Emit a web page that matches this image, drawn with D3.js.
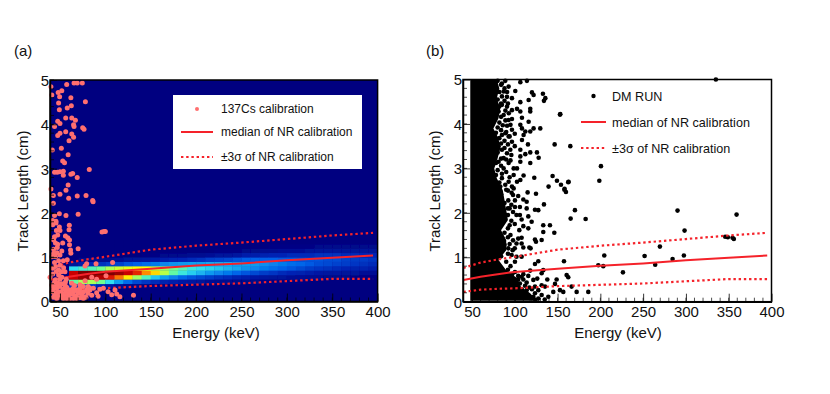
<!DOCTYPE html>
<html lang="en">
<head>
<meta charset="UTF-8">
<title>Track length vs energy</title>
<script src="https://d3js.org/d3.v7.min.js"></script>
<style>
    body { margin: 0; background: #fff; }
    svg { display: block; }
    text { font-family: "Liberation Sans", Arial, sans-serif; fill: #111; }
    .axis path { stroke: #000; stroke-width: 1.5px; }
    .axis line { stroke: #000; stroke-width: 0.8px; }
    .axis text { font-size: 15px; }
    .title { font-size: 15px; }
</style>
</head>
<body>
<svg id="chart" width="830" height="394"></svg>
<script>
// NR calibration curves: [energy keV, track length cm]
const medianLine = [[40, 0.49], [60, 0.56], [80, 0.62], [100, 0.67], [150, 0.74], [200, 0.81], [250, 0.86], [300, 0.93], [350, 0.99], [395, 1.04]];
const upperLine = [[40, 0.76], [60, 0.88], [80, 0.95], [100, 1.01], [150, 1.17], [200, 1.26], [250, 1.33], [300, 1.41], [350, 1.49], [395, 1.55]];
const lowerLine = [[40, 0.22], [60, 0.27], [80, 0.29], [100, 0.30], [150, 0.35], [200, 0.38], [250, 0.41], [300, 0.46], [350, 0.51], [395, 0.51]];

// NR calibration histogram: one row per energy bin, one value per length bin
const heatEnergies = [60, 70, 80, 90, 100, 110, 120, 130, 140, 150, 160, 170, 180, 190, 200, 210, 220, 230, 240, 250, 260, 270, 280, 290, 300, 310, 320, 330, 340, 350, 360, 370, 380, 390];
const heatLengths = [0.2, 0.3, 0.4, 0.5, 0.6, 0.7, 0.8, 0.9, 1.0, 1.1, 1.2, 1.3];
const heatValues = [
    [0, .12, .48, .90, .90, .40, .05, 0, 0, 0, 0, 0],
    [0, .16, .55, .96, 1, .44, .08, .02, 0, 0, 0, 0],
    [0, .14, .55, .96, 1, .46, .10, .02, 0, 0, 0, 0],
    [0, .10, .50, .93, 1, .50, .12, .03, 0, 0, 0, 0],
    [0, .07, .40, .86, 1, .55, .14, .03, 0, 0, 0, 0],
    [0, .04, .30, .76, .96, .58, .15, .04, 0, 0, 0, 0],
    [0, .02, .22, .64, .90, .60, .18, .05, 0, 0, 0, 0],
    [0, .02, .16, .54, .84, .62, .20, .05, 0, 0, 0, 0],
    [0, .01, .13, .45, .74, .62, .22, .06, .01, 0, 0, 0],
    [0, .01, .11, .36, .66, .58, .24, .07, .01, 0, 0, 0],
    [0, 0, .09, .30, .56, .54, .26, .08, .02, 0, 0, 0],
    [0, 0, .08, .25, .48, .50, .28, .09, .02, 0, 0, 0],
    [0, 0, .07, .21, .42, .46, .29, .10, .02, 0, 0, 0],
    [0, 0, .06, .18, .37, .42, .30, .11, .03, 0, 0, 0],
    [0, 0, .05, .16, .33, .40, .30, .12, .03, 0, 0, 0],
    [0, 0, .04, .14, .29, .38, .31, .14, .04, 0, 0, 0],
    [0, 0, .03, .12, .26, .36, .31, .15, .05, .01, 0, 0],
    [0, 0, .03, .11, .24, .33, .31, .16, .05, .01, 0, 0],
    [0, 0, .02, .09, .21, .31, .30, .18, .06, .01, 0, 0],
    [0, 0, .02, .08, .18, .28, .30, .20, .08, .02, 0, 0],
    [0, 0, .02, .07, .16, .26, .29, .20, .08, .02, 0, 0],
    [0, 0, .01, .06, .14, .24, .27, .20, .09, .03, 0, 0],
    [0, 0, .01, .05, .13, .22, .25, .20, .10, .03, .01, 0],
    [0, 0, .01, .05, .11, .20, .24, .19, .10, .04, .01, 0],
    [0, 0, .01, .04, .10, .18, .22, .19, .11, .04, .01, 0],
    [0, 0, .01, .04, .09, .16, .21, .18, .11, .04, .01, 0],
    [0, 0, 0, .03, .08, .14, .19, .18, .11, .05, .01, 0],
    [0, 0, 0, .03, .07, .13, .17, .18, .12, .05, .02, 0],
    [0, 0, 0, .02, .06, .12, .16, .17, .12, .05, .02, 0],
    [0, 0, 0, .02, .06, .11, .15, .17, .12, .05, .02, 0],
    [0, 0, 0, .02, .05, .10, .14, .15, .11, .05, .02, 0],
    [0, 0, 0, .01, .05, .09, .13, .14, .11, .05, .02, 0],
    [0, 0, 0, .01, .04, .09, .12, .14, .10, .05, .02, 0],
    [0, 0, 0, .01, .04, .08, .11, .13, .10, .05, .02, 0]
];

// 137Cs calibration events
const csPoints = [
    [40, 4.85], [57.4, 4.9], [65.5, 4.93], [69, 4.93], [74.6, 4.93], [52, 4.76], [48, 4.72], [41, 4.66], [49.6, 4.62], [62, 4.6],
    [48.5, 4.48], [78, 4.51], [62.5, 4.42], [58, 4.37], [49.3, 4.33], [56.3, 4.14], [63, 4.14], [67, 4.09], [47.5, 4.07], [50, 4.02],
    [44, 3.95], [65, 3.99], [65.5, 3.95], [75, 3.92], [76.5, 3.89], [56.3, 3.83], [50, 3.8], [47.5, 3.75], [63, 3.78], [65, 3.71],
    [60, 3.63], [41.5, 3.42], [51.5, 3.46], [59, 3.31], [53, 3.17], [55, 3.13], [82.3, 2.98], [44, 2.92], [47, 2.92], [50, 2.93],
    [53.7, 2.94], [53.7, 2.85], [62, 2.87], [64, 2.89], [69, 2.8], [59, 2.63], [40, 2.54], [56.6, 2.51], [50, 2.42], [42.7, 2.39],
    [59.6, 2.33], [69, 2.38], [78.7, 2.39], [86, 2.28], [86.5, 2.25], [42.7, 2.22], [44, 1.94], [49.3, 1.98], [56.6, 1.94], [70, 1.97],
    [42, 1.83], [45.6, 1.81], [42, 1.73], [45.6, 1.77], [49.3, 1.68], [60.3, 1.72], [60, 1.62], [47.5, 1.5], [50, 1.6], [96.3, 1.57],
    [98.5, 1.58], [100, 1.58], [56, 1.48], [58.6, 1.44], [60.5, 1.39], [43, 1.39], [45, 1.32], [47.5, 1.29], [60.5, 1.28], [61.6, 1.16],
    [70, 1.19], [43, 1.18], [46.7, 1.1], [43, 1.09], [50, 1.05], [62, 1.09], [58, 0.94], [45, 1.01], [48.5, 0.92], [41, 1.01],
    [53.7, 0.92], [79.4, 0.85], [89.7, 0.85], [108, 0.88], [77.6, 0.8], [45, 0.79], [42, 0.75], [48.5, 0.71], [51.5, 0.67], [55.5, 0.67],
    [39, 0.55], [45, 0.49], [48.5, 0.6], [52, 0.55], [100.7, 0.58], [90.4, 0.5], [77.6, 0.47], [85, 0.55], [57, 0.5],
    [42.7, 0.34], [46.3, 0.3], [50, 0.34], [53.7, 0.275], [57.4, 0.32], [61, 0.26], [64.7, 0.3], [68.4, 0.26], [72, 0.3], [75.7, 0.34],
    [79.4, 0.26], [83, 0.3], [41, 0.22], [44.5, 0.185], [48, 0.22], [52, 0.15], [55.5, 0.185], [59, 0.125], [63, 0.17], [66.5, 0.125],
    [70, 0.185], [74, 0.15], [77.6, 0.11], [81, 0.185], [42.7, 0.095], [46.3, 0.07], [50, 0.095], [53.7, 0.07], [57.4, 0.07], [61, 0.07],
    [64.7, 0.07], [68.4, 0.07], [72, 0.087], [75.7, 0.07], [78.7, 0.095], [41, 0.37], [48, 0.41], [55.5, 0.37], [63, 0.41], [81, 0.34],
    [83, 0.26], [86.8, 0.3], [90.4, 0.2], [94, 0.275], [97.8, 0.3], [103, 0.22], [107, 0.15], [110.6, 0.26], [112.5, 0.17], [116, 0.11], [131, 0.14],
    [44, 0.14], [48, 0.12], [51, 0.22], [54, 0.13], [57, 0.24], [60, 0.18], [65, 0.22], [68, 0.12], [72, 0.22], [76, 0.22],
    [43, 0.28], [47, 0.36], [52, 0.4], [56, 0.44], [44, 0.44], [50, 0.5], [42, 0.62], [46, 0.68], [54, 0.76], [50, 0.82],
    [44, 0.88], [52, 1.14], [47, 1.22], [44, 1.46], [53, 1.32], [46, 1.6], [72, 0.38], [85, 0.14], [92, 0.12], [66, 0.36]
];

// DM run: solid black mass on the low energy side, [track length, energy of its right edge]
const coreEdge = [
    [5, 79], [4.8, 82], [4.58, 79], [4.35, 83], [4.13, 81], [3.9, 75], [3.68, 81], [3.45, 83], [3.23, 80], [3, 76], [2.78, 79], [2.51, 86],
    [2.29, 88], [2.06, 90], [1.84, 92], [1.61, 84], [1.39, 90], [1.16, 90], [0.94, 81], [0.71, 90], [0.53, 103], [0.34, 107], [0.19, 118], [0.02, 126]
];
const coreStart = 48;

// DM run events outside that mass
const dmPoints = [
    [106.5, 4.94], [114.2, 4.97], [88.9, 4.97], [85, 4.91], [92.8, 4.84], [100.6, 4.74], [120.1, 4.71], [122, 4.65], [132.9, 4.68], [135.7, 4.58],
    [134.1, 4.52], [116.2, 4.54], [106.5, 4.49], [90.9, 4.61], [87, 4.73], [96.7, 4.58], [85, 4.43], [81.9, 4.39], [90.9, 4.39], [96.7, 4.31],
    [102.6, 4.34], [106.5, 4.28], [118.1, 4.34], [118.1, 4.28], [153.2, 4.22], [108.4, 4.14], [81.1, 4.28], [87, 4.2], [92.8, 4.09], [96.7, 4.11],
    [116.2, 4.05], [106.5, 3.98], [108.4, 3.9], [122, 3.9], [129.8, 3.9], [112.3, 3.83], [118.1, 3.83], [88.9, 3.79], [96.7, 3.87], [85, 3.75],
    [110.3, 3.75], [92.8, 3.72], [108.4, 3.64], [96.7, 3.6], [115.4, 3.54], [146.6, 3.54], [164.9, 3.5], [106.5, 3.42], [118.1, 3.36], [125.9, 3.36],
    [112.3, 3.32], [106.5, 3.27], [127.9, 3.24], [106.5, 3.15], [118.1, 3.12], [85, 3.42], [90.9, 3.34], [94.8, 3.42], [81.1, 3.49], [98.7, 3],
    [102.6, 3], [92.8, 3.12], [87, 3], [98.7, 2.85], [110.3, 2.84], [122.8, 2.79], [144.2, 2.83], [149.3, 2.72], [154, 2.63], [162.9, 2.7],
    [158.2, 2.54], [139.5, 2.59], [106.5, 2.74], [102.6, 2.7], [96.7, 2.59], [92.8, 2.7], [85, 2.78], [88.9, 2.63], [98.7, 2.55], [83.1, 2.59],
    [87, 3.23], [81.1, 3.15], [198.8, 2.72], [200.7, 3.05], [152.8, 4.21], [162.5, 2.69], [158, 2.52], [159.8, 2.47], [124.8, 2.43], [115, 2.46],
    [335, 5], [290.2, 2.05], [359.2, 1.96], [298.4, 1.6], [345.9, 1.46], [349, 1.45], [354.5, 1.44], [356, 1.41], [269.6, 1.24], [204.6, 1.04],
    [251.7, 1.03], [297.6, 1.04], [284.4, 0.96], [264.1, 0.83], [203.4, 0.8], [226.4, 0.66], [170.3, 2.06], [165.3, 1.87], [182.8, 1.86], [197.6, 0.82],
    [185.9, 0.22], [172.3, 0.22], [166.4, 0.34], [160.6, 0.6], [162.5, 0.55], [157.5, 0.91], [152.8, 0.26], [156.7, 0.22], [147, 0.4], [148.9, 0.5],
    [145, 0.22], [139.2, 0.11], [138, 0.5], [133.3, 0.71], [131.4, 0.64], [146.2, 1.55], [141.1, 1.72], [133.3, 1.72], [134.1, 2.19], [127.5, 0.91],
    [123.6, 0.85], [133.3, 1.57], [131.4, 1.39], [124.8, 1.35], [123.6, 1.4], [117, 1.22], [118.5, 1.2], [110, 1.22], [102, 1.31], [108, 1.31],
    [104, 1.42], [108, 1.44], [115.8, 1.65], [105.3, 1.61], [119.7, 1.8], [108, 1.85], [115.8, 1.92], [106, 1.95], [113.9, 2.1], [123.6, 2.07],
    [127.5, 2.06], [100.2, 2.13], [106, 2.13], [113.9, 2.25], [110, 2.3], [100.2, 2.28], [92.4, 2.28], [96.3, 2.45], [126.3, 0.52], [115.8, 0.58],
    [110, 0.5], [113.9, 0.43], [121.7, 0.49], [123.6, 0.34], [131.4, 0.37], [135.3, 0.34], [127.5, 0.26], [123.6, 0.19], [131.4, 0.15], [121.7, 0.11],
    [127.5, 0.07], [108, 0.56], [106, 0.41], [113.9, 0.26], [100.2, 0.67], [104, 0.58], [97.5, 1.16], [92.4, 1.2], [96.3, 1.05], [100.2, 0.9],
    [108, 1.01], [102, 1.01], [95, 1.5], [92, 1.65], [90, 1.95], [94, 2.1],
    [80, 4.97], [84, 4.88], [88, 4.8], [82, 4.72], [91, 4.72], [85, 4.62], [80, 4.55], [88, 4.52], [84, 4.46], [92, 4.46],
    [78, 4.36], [89, 4.3], [93, 4.24], [84, 4.16], [89, 4.08], [82, 4.03], [86, 3.97], [91, 3.96], [95, 3.98], [80, 3.92],
    [84, 3.86], [90, 3.82], [100, 3.78], [78, 3.8], [94, 3.72], [82, 3.68], [88, 3.62], [84, 3.56], [92, 3.54], [100, 3.5],
    [80, 3.36], [88, 3.46], [96, 3.3], [84, 3.22], [78, 3.12], [90, 3.2], [84, 3.06], [95, 3.18], [80, 2.96], [90, 2.92],
    [85, 2.88], [78, 2.85], [94, 2.8], [82, 2.68], [90, 2.52], [84, 2.42], [92, 2.5], [98, 2.4], [104, 2.38], [88, 2.22],
    [96, 2.18], [92, 2.1], [98, 2.02], [92, 1.95], [102, 1.95], [96, 1.82], [100, 1.75], [94, 1.72], [110, 1.7], [88, 1.55],
    [92, 1.45], [98, 1.38], [94, 1.3], [88, 1.28], [100, 1.2], [92, 1.08], [84, 1.02], [90, 0.9], [95, 0.8], [92, 0.72],
    [97, 0.62], [110, 0.62], [118, 0.7], [104, 0.5], [112, 0.36], [117, 0.32], [108, 0.28], [120, 0.28], [118, 0.08], [112, 0.12],
    [124, 0.04], [135, 0.05]
];

const energyTicks = [50, 100, 150, 200, 250, 300, 350, 400];
const energyMinor = d3.range(40, 401, 10);
const lengthTicks = [0, 1, 2, 3, 4, 5];
const lengthMinor = d3.range(0, 5.01, 0.2);

const svg = d3.select('#chart');

svg.append('defs').append('filter').attr('id', 'soft')
    .append('feGaussianBlur').attr('stdDeviation', 0.7);

const heatColor = d3.scaleLinear()
    .domain([0, 0.1, 0.2, 0.3, 0.4, 0.5, 0.62, 0.75, 0.88, 1])
    .range(['#000080', '#0024b4', '#0060e8', '#10a0f0', '#30e0f0', '#70ff90', '#ffff00', '#ff8000', '#d80000', '#800000'])
    .clamp(true);

function drawFrame(g, x, y, left, right, top, bottom) {
    g.append('g')
        .attr('class', 'axis')
        .attr('transform', `translate(0,${bottom})`)
        .call(d3.axisBottom(x).tickValues(energyTicks).tickSizeInner(-8).tickSizeOuter(0).tickPadding(3))
        .call(a => a.selectAll('text').attr('y', 5).attr('dy', '0.71em'));

    g.append('g')
        .attr('class', 'axis')
        .attr('transform', `translate(${left},0)`)
        .call(d3.axisLeft(y).tickValues(lengthTicks).tickFormat(d3.format('d')).tickSizeInner(-7).tickSizeOuter(0))
        .call(a => a.selectAll('text').attr('x', -1).attr('dy', '0.36em'));

    g.append('g').selectAll('line').data(energyMinor).enter().append('line')
        .attr('x1', d => x(d)).attr('x2', d => x(d))
        .attr('y1', bottom).attr('y2', bottom - 4)
        .attr('stroke', '#000').attr('stroke-width', 0.7);

    g.append('g').selectAll('line').data(lengthMinor).enter().append('line')
        .attr('x1', left).attr('x2', left + 4)
        .attr('y1', d => y(d)).attr('y2', d => y(d))
        .attr('stroke', '#000').attr('stroke-width', 0.7);

    g.append('rect')
        .attr('x', left).attr('y', top)
        .attr('width', right - left).attr('height', bottom - top)
        .attr('fill', 'none').attr('stroke', '#000').attr('stroke-width', 1.5);
}

function drawCurves(g, x, y) {
    const line = d3.line().x(d => x(d[0])).y(d => y(d[1]));
    g.append('path').datum(medianLine).attr('d', line)
        .attr('fill', 'none').attr('stroke', '#f5222a').attr('stroke-width', 2);
    for (const curve of [upperLine, lowerLine]) {
        g.append('path').datum(curve).attr('d', line)
            .attr('fill', 'none').attr('stroke', '#f5222a').attr('stroke-width', 2.2).attr('stroke-dasharray', '2.4 2.8');
    }
}

function drawLabels(g, xCenter, yLabelX, title, titleX) {
    g.append('text').attr('x', xCenter).attr('y', 338).attr('text-anchor', 'middle').style('font-size', '15px').text('Energy (keV)');
    g.append('text').attr('transform', `translate(${yLabelX},191) rotate(-90)`).attr('text-anchor', 'middle').style('font-size', '15px').text('Track Length (cm)');
    g.append('text').attr('class', 'title').attr('x', titleX).attr('y', 56).text(title);
}

function drawLegend(g, lineX1, lineX2, textX, ys, size, firstLabel, dot) {
    g.append('circle').attr('cx', (lineX1 + lineX2) / 2).attr('cy', ys[0]).attr('r', dot.r).attr('fill', dot.fill);
    g.append('line').attr('x1', lineX1).attr('x2', lineX2).attr('y1', ys[1]).attr('y2', ys[1])
        .attr('stroke', '#f5222a').attr('stroke-width', 2);
    g.append('line').attr('x1', lineX1).attr('x2', lineX2).attr('y1', ys[2]).attr('y2', ys[2])
        .attr('stroke', '#f5222a').attr('stroke-width', 2.2).attr('stroke-dasharray', '2.4 2.8');
    const labels = [firstLabel, 'median of NR calibration', '±3σ of NR calibration'];
    g.selectAll('.legend-label').data(labels).enter().append('text')
        .attr('class', 'legend-label')
        .attr('x', textX).attr('y', (d, i) => ys[i]).attr('dy', '0.36em')
        .style('font-size', size).text(d => d);
}

// Panel (a)
const panelA = svg.append('g');
const xA = d3.scaleLinear().domain([39, 400]).range([50, 377.6]);
const yA = d3.scaleLinear().domain([0, 5]).range([301.5, 80]);

panelA.append('rect').attr('x', 50).attr('y', 80).attr('width', 327.6).attr('height', 221.5).attr('fill', '#000080');

const heatGroup = panelA.append('g').attr('filter', 'url(#soft)');
heatEnergies.forEach((energy, i) => {
    heatGroup.append('g').selectAll('rect').data(heatValues[i].map((v, j) => [heatLengths[j], v])).enter().append('rect')
        .attr('x', xA(energy))
        .attr('width', xA(energy + 10) - xA(energy) + 0.3)
        .attr('y', d => yA(d[0] + 0.1))
        .attr('height', d => yA(d[0]) - yA(d[0] + 0.1) + 0.3)
        .attr('fill', d => heatColor(d[1]));
});

drawCurves(panelA, xA, yA);

panelA.append('g').selectAll('circle').data(csPoints).enter().append('circle')
    .attr('cx', d => xA(d[0])).attr('cy', d => yA(d[1])).attr('r', 2.5)
    .attr('fill', '#ff6f6f');

drawFrame(panelA, xA, yA, 50, 377.6, 80, 301.5);
drawLabels(panelA, 216, 28, '(a)', 14);

panelA.append('rect').attr('x', 173).attr('y', 95).attr('width', 189).attr('height', 74).attr('fill', '#fff');
drawLegend(panelA, 181, 213, 221, [109, 132, 157], '12px', '137Cs calibration', { r: 2, fill: '#ff6f6f' });

// Panel (b)
const panelB = svg.append('g');
const xB = d3.scaleLinear().domain([39.5, 400]).range([463, 771.5]);
const yB = d3.scaleLinear().domain([0, 5]).range([301.7, 79.5]);

const coreArea = d3.area()
    .y(d => yB(d[0]))
    .x0(xB(coreStart))
    .x1(d => xB(d[1]));

panelB.append('path').datum(coreEdge).attr('d', coreArea).attr('fill', '#000');

panelB.append('g').selectAll('circle').data(dmPoints).enter().append('circle')
    .attr('cx', d => xB(d[0])).attr('cy', d => yB(d[1])).attr('r', 2.3)
    .attr('fill', '#000');

drawCurves(panelB, xB, yB);
drawFrame(panelB, xB, yB, 463, 771.5, 79.5, 301.7);
drawLabels(panelB, 618, 440, '(b)', 426);
drawLegend(panelB, 581, 606, 612, [96, 122, 148], '12.6px', 'DM RUN', { r: 2.2, fill: '#000' });
</script>
</body>
</html>
